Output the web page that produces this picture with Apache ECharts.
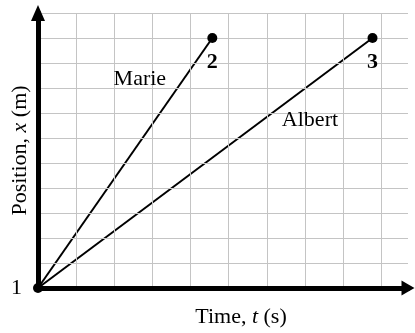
<!DOCTYPE html>
<html>
<head>
<meta charset="UTF-8">
<title>Position vs time</title>
<script src="https://cdn.jsdelivr.net/npm/echarts@6/dist/echarts.min.js"></script>
<style>
html, body { margin: 0; padding: 0; background: #fff; }
</style>
</head>
<body>
<div id="main" style="width: 415px;height:333px;"></div>
<script type="text/javascript">
// values in grid squares
var marieTime = [0, 4.57];
var mariePos = [0, 10];
var albertTime = [0, 8.77];
var albertPos = [0, 10];
var pointNames = ['1', '2', '3'];
var runnerNames = ['Marie', 'Albert'];
// where the runner names sit (grid squares)
var runnerLabelAt = [[2.67, 8.37], [7.13, 6.7]];

var serif = 'Liberation Serif';
var myChart = echarts.init(document.getElementById('main'));

var dots = [
    [marieTime[0], mariePos[0]],
    [marieTime[1], mariePos[1]],
    [albertTime[1], albertPos[1]]
];

function lineOf(t, x) {
    return t.map(function (v, i) { return [v, x[i]]; });
}

var option = {
    animation: false,
    grid: { left: 38, right: 7, top: 13, bottom: 44 },
    xAxis: {
        type: 'value',
        min: 0, max: 9.7, interval: 1,
        axisLine: {
            lineStyle: { color: '#000', width: 5 },
            symbol: ['none', 'triangle'],
            symbolSize: [15, 13]
        },
        axisTick: { show: false },
        axisLabel: { show: false },
        splitLine: { showMaxLine: false, lineStyle: { color: '#c4c4c4', width: 1 } },
        name: '{n|Time, }{i|t}{n| (s)}',
        nameLocation: 'middle',
        nameGap: 18,
        nameTextStyle: {
            padding: [0, 0, 0, 36],
            rich: {
                n: { fontFamily: serif, fontSize: 22, color: '#000' },
                i: { fontFamily: serif, fontSize: 22, fontStyle: 'italic', color: '#000' }
            }
        },
        z: 5
    },
    yAxis: {
        type: 'value',
        min: 0, max: 11, interval: 1,
        axisLine: {
            lineStyle: { color: '#000', width: 5 },
            symbol: ['none', 'triangle'],
            symbolSize: [14, 16]
        },
        axisTick: { show: false },
        axisLabel: { show: false },
        splitLine: { lineStyle: { color: '#c4c4c4', width: 1 } },
        name: '{n|Position, }{i|x}{n| (m)}',
        nameLocation: 'middle',
        nameGap: 7,
        nameTextStyle: {
            rich: {
                n: { fontFamily: serif, fontSize: 22, color: '#000' },
                i: { fontFamily: serif, fontSize: 22, fontStyle: 'italic', color: '#000' }
            }
        },
        z: 5
    },
    series: [
        {
            name: runnerNames[0], type: 'line', data: lineOf(marieTime, mariePos),
            symbol: 'none', lineStyle: { color: '#000', width: 2 }, z: 3
        },
        {
            name: runnerNames[1], type: 'line', data: lineOf(albertTime, albertPos),
            symbol: 'none', lineStyle: { color: '#000', width: 2 }, z: 3
        },
        {
            type: 'scatter', z: 10,
            symbolSize: 10,
            itemStyle: { color: '#000', opacity: 1 },
            data: dots.map(function (d, i) {
                return {
                    value: d,
                    label: {
                        show: true,
                        formatter: pointNames[i],
                        position: i === 0 ? 'left' : 'bottom',
                        distance: i === 0 ? 11 : 8,
                        fontFamily: serif,
                        fontSize: 22,
                        fontWeight: i === 0 ? 'normal' : 'bold',
                        color: '#000'
                    }
                };
            })
        },
        {
            type: 'scatter', symbolSize: 0, silent: true, z: 10,
            itemStyle: { color: '#000', opacity: 1 },
            data: runnerLabelAt.map(function (p, i) {
                return {
                    value: p,
                    label: {
                        show: true, position: 'inside', formatter: runnerNames[i],
                        fontFamily: serif, fontSize: 22, color: '#000',
                        textBorderWidth: 0
                    }
                };
            })
        }
    ]
};
myChart.setOption(option);
</script>
</body>
</html>
